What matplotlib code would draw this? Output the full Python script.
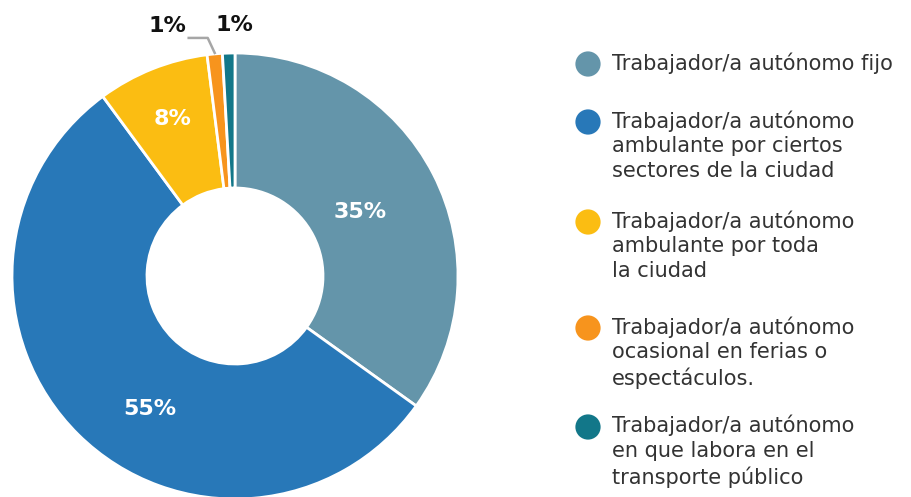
import numpy as np
import matplotlib
matplotlib.use('Agg')
import matplotlib.pyplot as plt

# data
categorias = ['Trabajador/a autónomo fijo',
              'Trabajador/a autónomo\nambulante por ciertos\nsectores de la ciudad',
              'Trabajador/a autónomo\nambulante por toda\nla ciudad',
              'Trabajador/a autónomo\nocasional en ferias o\nespectáculos.',
              'Trabajador/a autónomo\nen que labora en el\ntransporte público']
valores = [34.9, 55.0, 8.1, 1.1, 0.9]
etiquetas = ['35%', '55%', '8%', '1%', '1%']
colores = ['#6495AA', '#2878B8', '#FBBD12', '#F7941D', '#127789']

plt.rcParams['font.family'] = ['DejaVu Sans']

fig = plt.figure(figsize=(9.11, 4.97), dpi=100)
ax = fig.add_axes([0, 0, 1, 1])
ax.set_aspect('equal')
ax.axis('off')

cx, cy, R = 235, 221, 223
wedges, _ = ax.pie(valores, colors=colores, startangle=90, counterclock=False,
                   center=(cx, cy), radius=R,
                   wedgeprops=dict(width=135, edgecolor='white', linewidth=2))
ax.set_xlim(0, 911)
ax.set_ylim(0, 497)

# labels inside the slices
dist = [0.63, 0.71, 0.76]
shift = [0, 12, 0]
for i in range(3):
    w = wedges[i]
    a = np.deg2rad((w.theta1 + w.theta2) / 2 + shift[i])
    ax.text(cx + dist[i] * R * np.cos(a), cy + dist[i] * R * np.sin(a), etiquetas[i],
            color='white', fontsize=16, fontweight='bold', ha='center', va='center')

# small slices, outside labels
w = wedges[3]
a = np.deg2rad((w.theta1 + w.theta2) / 2)
x0, y0 = cx + R * np.cos(a), cy + R * np.sin(a)
ax.plot([x0, x0 - 7, x0 - 26], [y0 + 1, y0 + 16, y0 + 16], color='#A6A6A6', lw=1.8)
ax.text(x0 - 47, y0 + 28, etiquetas[3], fontsize=16, fontweight='bold',
        ha='center', va='center', color='#111111')
w = wedges[4]
a = np.deg2rad((w.theta1 + w.theta2) / 2)
ax.text(cx + R * np.cos(a) + 6, cy + R * np.sin(a) + 28, etiquetas[4], fontsize=16,
        fontweight='bold', ha='center', va='center', color='#111111')

# legend
ley_y = [433, 375, 275, 169, 70]
for i in range(5):
    ax.scatter(588, ley_y[i], s=330, color=colores[i], edgecolor='none')
    ax.text(612, ley_y[i] + 12, categorias[i], fontsize=15, color='#333333',
            ha='left', va='top', linespacing=1.3)

plt.savefig('out.png', dpi=100)
